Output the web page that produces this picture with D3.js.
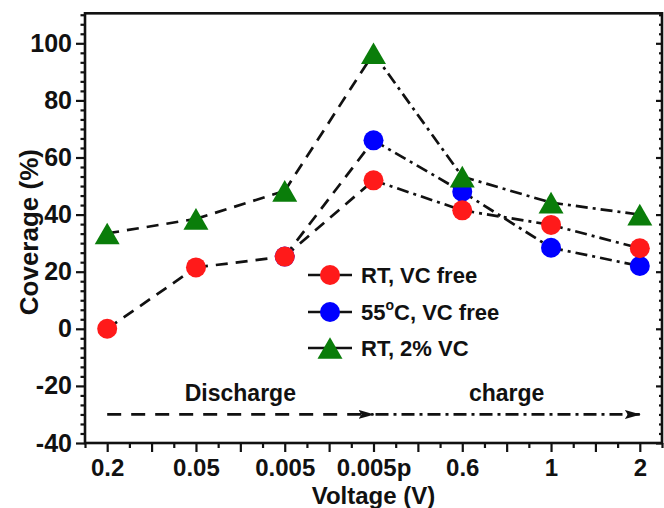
<!DOCTYPE html>
<html>
<head>
<meta charset="utf-8">
<script src="https://cdn.jsdelivr.net/npm/d3@7"></script>
<style>
  html, body { margin: 0; padding: 0; background: #fff; }
  svg { display: block; }
  text { font-family: "Liberation Sans", Arial, sans-serif; font-weight: bold; fill: #111; }
</style>
</head>
<body>
<svg id="chart" width="664" height="508"></svg>
<script>
// Voltage steps along the cycle (discharge then charge)
const categories = ["0.2", "0.05", "0.005", "0.005p", "0.6", "1", "2"];
const peakIndex = 3; // "0.005p": end of discharge, start of charge

// Coverage (%) per series
const rtFree  = [0, 21.5, 25.3, 52, 41.5, 36.4, 28.2];
const hotFree = [null, null, 25.3, 66, 48, 28.4, 22];
const rtVC    = [33.4, 38.5, 48.3, 96.5, 53.3, 44.2, 40];

const seriesNames = ["RT, VC free", "55°C, VC free", "RT, 2% VC"];
const yTicks = [-40, -20, 0, 20, 40, 60, 80, 100];
const arrowLevel = -30;
const phaseLabels = ["Discharge", "charge"];

const series = [
  { name: seriesNames[1], values: hotFree, color: "#0000ff", shape: "circle" },
  { name: seriesNames[0], values: rtFree,  color: "#ff1a1a", shape: "circle" },
  { name: seriesNames[2], values: rtVC,    color: "#0a7d0a", shape: "triangle" }
];

const svg = d3.select("#chart");

const x = d3.scaleLinear().domain([-0.25, categories.length - 0.75]).range([85, 662]);
const y = d3.scaleLinear().domain([-40, 100]).range([443, 43.3]);
const yTop = 110.5;

const DASH = "12,8";
const DASHDOT = "12,5,3,5";

// arrowheads
const defs = svg.append("defs");
defs.append("marker")
  .attr("id", "arrowhead")
  .attr("viewBox", "0 0 16 9")
  .attr("refX", 15).attr("refY", 4.5)
  .attr("markerWidth", 16).attr("markerHeight", 9)
  .attr("markerUnits", "userSpaceOnUse")
  .attr("orient", "auto")
  .append("path").attr("d", "M0,0 L16,4.5 L0,9 L3,4.5 Z").attr("fill", "#111");

// series lines: dashed through discharge, dash-dot through charge
const lineG = svg.append("g");
series.forEach(s => {
  for (let i = 0; i < s.values.length - 1; i++) {
    const a = s.values[i], b = s.values[i + 1];
    if (a == null || b == null) continue;
    lineG.append("line")
      .attr("x1", x(i)).attr("y1", y(a))
      .attr("x2", x(i + 1)).attr("y2", y(b))
      .attr("stroke", "#111").attr("stroke-width", 2.7)
      .attr("stroke-dasharray", i + 1 <= peakIndex ? DASH : DASHDOT);
  }
});

// markers
const triangle = d3.symbol().type(d3.symbolTriangle).size(270);
function drawMarker(g, shape, cx, cy, color) {
  if (shape === "circle") {
    g.append("circle").attr("cx", cx).attr("cy", cy).attr("r", 10).attr("fill", color);
  } else {
    // centre the triangle's bounding box on the point
    g.append("path").attr("d", triangle())
      .attr("transform", `translate(${cx},${cy + 3.6})`)
      .attr("fill", color);
  }
}
const markG = svg.append("g");
series.forEach(s => {
  s.values.forEach((v, i) => {
    if (v == null) return;
    drawMarker(markG, s.shape, x(i), y(v), s.color);
  });
});

// phase arrows
const arrowG = svg.append("g");
arrowG.append("line")
  .attr("x1", x(0)).attr("y1", y(arrowLevel))
  .attr("x2", x(peakIndex)).attr("y2", y(arrowLevel))
  .attr("stroke", "#111").attr("stroke-width", 2.7)
  .attr("stroke-dasharray", "14,10")
  .attr("marker-end", "url(#arrowhead)");
arrowG.append("line")
  .attr("x1", x(peakIndex) + 2).attr("y1", y(arrowLevel))
  .attr("x2", x(categories.length - 1)).attr("y2", y(arrowLevel))
  .attr("stroke", "#111").attr("stroke-width", 2.7)
  .attr("stroke-dasharray", "13,5,3,5")
  .attr("marker-end", "url(#arrowhead)");
arrowG.append("text")
  .attr("x", x(peakIndex / 2)).attr("y", 401)
  .attr("text-anchor", "middle").attr("font-size", 23)
  .text(phaseLabels[0]);
arrowG.append("text")
  .attr("x", x((peakIndex + categories.length - 1) / 2)).attr("y", 401)
  .attr("text-anchor", "middle").attr("font-size", 23)
  .text(phaseLabels[1]);

// axes
const yMinor = d3.range(-40, yTop, 20 / 6).filter(v => !yTicks.some(t => Math.abs(t - v) < 1e-6));
const xMajor = d3.range(0, categories.length - 0.5 + 1e-9, 0.5);
const xMinor = d3.range(-0.25, categories.length - 0.75 + 1e-9, 0.5);
const yFormat = d => String(d); // plain hyphen for negatives

function styleAxis(g) {
  g.select(".domain").remove();
  g.selectAll(".tick line").attr("stroke", "#111").attr("stroke-width", 2.2);
}
function styleLabels(size) {
  return g => g.selectAll("text")
    .attr("font-size", size)
    .attr("font-family", "Liberation Sans, Arial")
    .attr("font-weight", "bold")
    .attr("fill", "#111");
}

// left
svg.append("g").attr("transform", `translate(${x.range()[0]},0)`)
  .call(d3.axisLeft(y).tickValues(yTicks).tickSize(9).tickPadding(4).tickFormat(yFormat))
  .call(styleAxis)
  .call(styleLabels(25));
svg.append("g").attr("transform", `translate(${x.range()[0]},0)`)
  .call(d3.axisLeft(y).tickValues(yMinor).tickSize(4.5).tickFormat(""))
  .call(styleAxis);

// right (mirror ticks, inward)
svg.append("g").attr("transform", `translate(${x.range()[1]},0)`)
  .call(d3.axisLeft(y).tickValues(yTicks).tickSize(6).tickFormat(""))
  .call(styleAxis);
svg.append("g").attr("transform", `translate(${x.range()[1]},0)`)
  .call(d3.axisLeft(y).tickValues(yMinor).tickSize(3).tickFormat(""))
  .call(styleAxis);

// bottom
svg.append("g").attr("transform", `translate(0,${y(-40)})`)
  .call(d3.axisBottom(x).tickValues(xMajor).tickSize(9).tickPadding(7)
    .tickFormat(d => Number.isInteger(d) ? categories[d] : ""))
  .call(styleAxis)
  .call(styleLabels(24));
svg.append("g").attr("transform", `translate(0,${y(-40)})`)
  .call(d3.axisBottom(x).tickValues(xMinor).tickSize(5).tickFormat(""))
  .call(styleAxis);

// frame
svg.append("rect")
  .attr("x", x.range()[0]).attr("y", y(yTop))
  .attr("width", x.range()[1] - x.range()[0])
  .attr("height", y(-40) - y(yTop))
  .attr("fill", "none").attr("stroke", "#111").attr("stroke-width", 2.6);

// axis titles
svg.append("text")
  .attr("x", (x.range()[0] + x.range()[1]) / 2).attr("y", 504)
  .attr("text-anchor", "middle").attr("font-size", 24)
  .text("Voltage (V)");
svg.append("text")
  .attr("transform", `translate(38,${(y(-40) + y(yTop)) / 2 + 4}) rotate(-90)`)
  .attr("text-anchor", "middle").attr("font-size", 26)
  .text("Coverage (%)");

// legend
const legend = svg.append("g");
const legendOrder = [series[1], series[0], series[2]];
const legendRows = [275, 312, 348];
legendOrder.forEach((s, i) => {
  const ly = legendRows[i];
  legend.append("line")
    .attr("x1", 308).attr("x2", 352).attr("y1", ly).attr("y2", ly)
    .attr("stroke", "#111").attr("stroke-width", 2.7);
  drawMarker(legend, s.shape, 330, ly, s.color);
  const t = legend.append("text").attr("x", 361).attr("y", ly + 8).attr("font-size", 22);
  if (s.name.includes("°")) {
    const [pre, post] = s.name.split("°");
    t.append("tspan").text(pre);
    t.append("tspan").attr("font-size", 14).attr("dy", -10).text("o");
    t.append("tspan").attr("dy", 10).text(post);
  } else {
    t.text(s.name);
  }
});
</script>
</body>
</html>
